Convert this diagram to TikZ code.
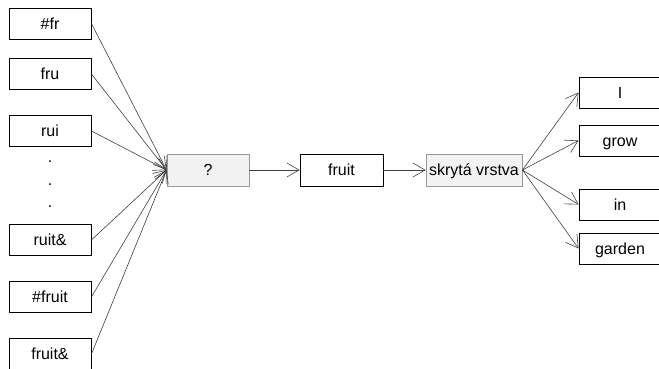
\documentclass[tikz,border=0pt]{standalone}
\usepackage{fontspec}
\setmainfont{Liberation Sans}
\usetikzlibrary{arrows.meta}
\begin{document}
\begin{tikzpicture}[x=1pt,y=-1pt,
  box/.style={draw=black,line width=0.9pt,fill=white,minimum width=82pt,minimum height=31pt,inner sep=0pt,text height=14pt,text depth=2.5pt,font=\fontsize{16}{19}\selectfont},
  gbox/.style={box,draw=gray!80,fill=black!5,minimum height=32pt},
  conn/.style={draw=black!75,line width=0.6pt,-{Straight Barb[length=12pt,width=14pt]}}]
\useasboundingbox (0,0) rectangle (659,369);
\node[box] (a1) at (50,23.5) {\#fr};
\node[box] (a2) at (50,74) {fru};
\node[box] (a3) at (50,131) {rui};
\node[box] (a4) at (50,240) {ruit\&};
\node[box] (a5) at (50,297) {\#fruit};
\node[box] (a6) at (50,354) {fruit\&};
\node[font=\fontsize{16}{19}\selectfont] (d1) at (50,162) {.};
\node[font=\fontsize{16}{19}\selectfont] (d2) at (50,185) {.};
\node[font=\fontsize{16}{19}\selectfont] (d3) at (50,207) {.};
\node[gbox] (q) at (208,170) {?};
\node[box,minimum width=83pt,minimum height=32pt] (f) at (341.5,170) {fruit};
\node[gbox,minimum width=96pt] (h) at (474,170) {skrytá vrstva};
\node[box] (o1) at (620,92.5) {I};
\node[box] (o2) at (620,140.5) {grow};
\node[box] (o3) at (620,204.5) {in};
\node[box] (o4) at (620,248.5) {garden};
\foreach \i in {1,...,6} \draw[conn] (a\i.east) -- (q.west);
\draw[conn] (q.east) -- (f.west);
\draw[conn] (f.east) -- (h.west);
\foreach \i in {1,...,4} \draw[conn] (h.east) -- (o\i.west);
\end{tikzpicture}
\end{document}
